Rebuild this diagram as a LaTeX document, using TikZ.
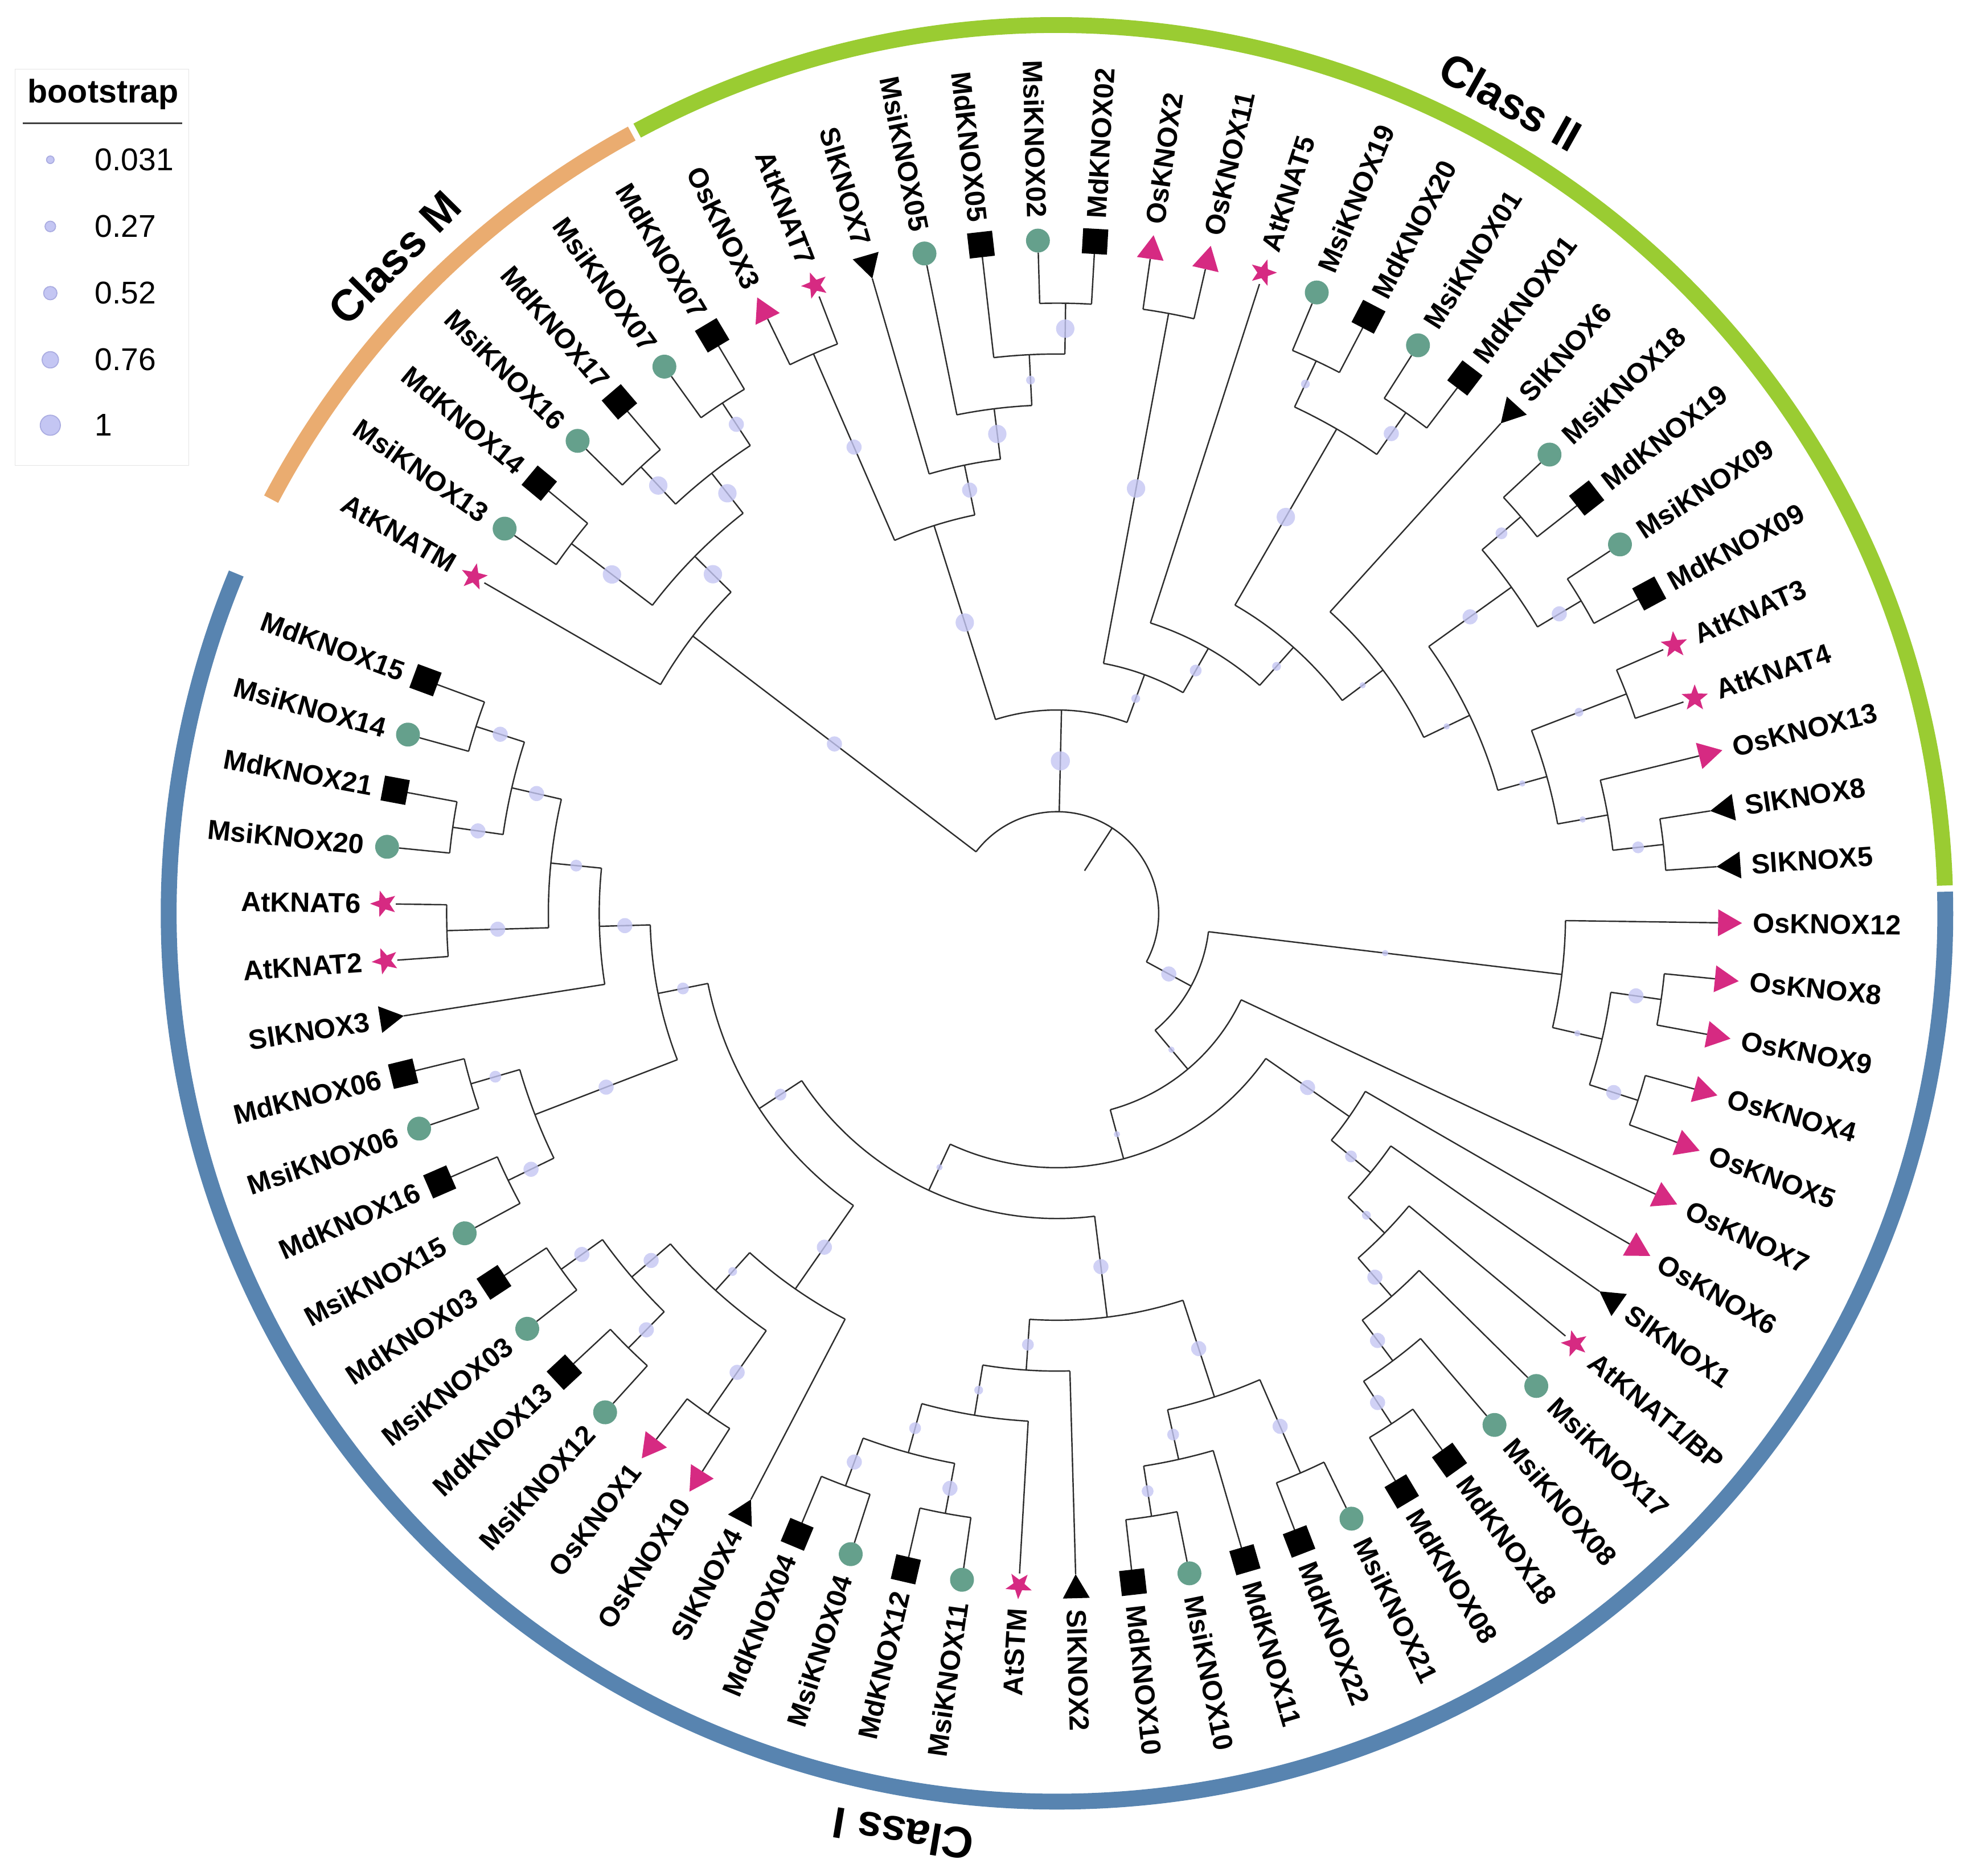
\documentclass[tikz,border=0pt]{standalone}
\usepackage{fontspec}
\setmainfont{Liberation Sans}
\definecolor{tealC}{RGB}{101,160,140}
\definecolor{magC}{RGB}{214,42,130}
\definecolor{ringO}{RGB}{234,172,112}
\definecolor{ringG}{RGB}{154,204,50}
\definecolor{ringB}{RGB}{88,132,176}
\definecolor{lavC}{RGB}{196,198,243}
\definecolor{lavD}{RGB}{170,172,225}
\definecolor{brC}{RGB}{45,45,45}
\tikzset{
 br/.style={draw=brC, line width=0.55pt},
 bsf/.style={fill=lavC, fill opacity=0.8},
 lab/.style={font=\fontsize{11}{13}\selectfont\bfseries, inner sep=0pt, text=black},
 cls/.style={font=\fontsize{17.5}{21}\selectfont\bfseries, inner sep=0pt},
 ringseg/.style={line width=6.3pt, line cap=butt},
 lgtxt/.style={font=\fontsize{12.5}{15}\selectfont, anchor=west, inner sep=0pt}
}
\newcommand\kxm{\fill[tealC] (0,0) circle[radius=9.5];}
\newcommand\kxd{\fill[black] (-10,-10) rectangle (10,10);}
\newcommand\kxa{\fill[magC] (0:11) -- (36:4.6) -- (72:11) -- (108:4.6) -- (144:11) -- (180:4.6) -- (216:11) -- (252:4.6) -- (288:11) -- (324:4.6) -- cycle;}
\newcommand\kxo{\fill[magC] (-9.5,-10.7) -- (9.5,0) -- (-9.5,10.7) -- cycle;}
\newcommand\kxs{\fill[black] (9.5,-10.7) -- (-9.5,0) -- (9.5,10.7) -- cycle;}
% internal nodes: p / level / parent level / bootstrap radius / first child p / last child p
\def\nodelist{%
1.5/9/2/6/0/3,%
3/10/9/7.3/1.5/4.5,%
1.5/12/10/7.3/1/2,%
4.5/11/10/7.3/3.5/5.5,%
3.5/12/11/7.3/3/4,%
5.5/12/11/6/5/6,%
12.595703/4/2/7.6/8.71875/16.472656,%
8.71875/8/4/7.3/7.5/9.9375,%
7.5/12/8/6/7/8,%
9.9375/9/8/6/9/10.875,%
10.875/10/9/7.3/10/11.75,%
11.75/11/10/3.5/11/12.5,%
12.5/12/11/7.3/12/13,%
16.472656/5/4/3.5/14.5/18.445313,%
14.5/12/5/7.3/14/15,%
18.445313/6/5/4.7/16/20.890625,%
20.890625/7/6/3.5/18.5/23.28125,%
18.5/11/7/7.3/17.5/19.5,%
17.5/12/11/3.5/17/18,%
19.5/12/11/6/19/20,%
23.28125/8/7/2.5/21/25.5625,%
25.5625/9/8/2.5/23.5/27.625,%
23.5/11/9/6/22.5/24.5,%
22.5/12/11/4.7/22/23,%
24.5/12/11/6/24/25,%
27.625/10/9/2.5/26.5/28.75,%
26.5/12/10/3.5/26/27,%
28.75/11/10/2.5/28/29.5,%
29.5/12/11/4.7/29/30,%
36.677734/3/2/6/32.25/41.105469,%
32.25/10/3/2.5/31/33.5,%
33.5/11/10/2.5/32.5/34.5,%
32.5/12/11/6/32/33,%
34.5/12/11/6/34/35,%
41.105469/4/3/2.5/36/46.210938,%
46.210938/5/4/2.5/37.984375/54.4375,%
37.984375/7/5/6/37/38.96875,%
38.96875/8/7/4.7/38/39.9375,%
39.9375/9/8/3.5/39/40.875,%
40.875/10/9/6/40/41.75,%
41.75/11/10/6/41/42.5,%
42.5/12/11/6/42/43,%
54.4375/6/5/2.5/47.875/61,%
47.875/8/6/6/45.625/50.125,%
45.625/10/8/6/44.5/46.75,%
44.5/12/10/6/44/45,%
46.75/11/10/4.7/46/47.5,%
47.5/12/11/4.7/47/48,%
50.125/9/8/4.7/49/51.25,%
51.25/10/9/3.5/50/52.5,%
52.5/11/10/4.7/51.5/53.5,%
51.5/12/11/6/51/52,%
53.5/12/11/6/53/54,%
61/7/6/4.7/56.5/65.5,%
56.5/9/7/6/55/58,%
58/10/9/3.5/56.5/59.5,%
56.5/12/10/6/56/57,%
59.5/11/10/6/58.5/60.5,%
58.5/12/11/6/58/59,%
60.5/12/11/6/60/61,%
65.5/8/7/4.7/63.5/67.5,%
63.5/11/8/6/62.5/64.5,%
62.5/12/11/6/62/63,%
64.5/12/11/4.7/64/65,%
67.5/9/8/6/66/69,%
69/10/9/4.7/67.5/70.5,%
67.5/12/10/6/67/68,%
70.5/11/10/6/69.5/71.5,%
69.5/12/11/6/69/70,%
71.5/12/11/6/71/72}
% leaves: index / name / species / parent level
\def\leaflist{%
0/AtKNATM/a/9,1/MsiKNOX13/m/12,2/MdKNOX14/d/12,3/MsiKNOX16/m/12,4/MdKNOX17/d/12,%
5/MsiKNOX07/m/12,6/MdKNOX07/d/12,7/OsKNOX3/o/12,8/AtKNAT7/a/12,9/SlKNOX7/s/9,%
10/MsiKNOX05/m/10,11/MdKNOX05/d/11,12/MsiKNOX02/m/12,13/MdKNOX02/d/12,14/OsKNOX2/o/12,%
15/OsKNOX11/o/12,16/AtKNAT5/a/6,17/MsiKNOX19/m/12,18/MdKNOX20/d/12,19/MsiKNOX01/m/12,%
20/MdKNOX01/d/12,21/SlKNOX6/s/8,22/MsiKNOX18/m/12,23/MdKNOX19/d/12,24/MsiKNOX09/m/12,%
25/MdKNOX09/d/12,26/AtKNAT3/a/12,27/AtKNAT4/a/12,28/OsKNOX13/o/11,29/SlKNOX8/s/12,%
30/SlKNOX5/s/12,31/OsKNOX12/o/10,32/OsKNOX8/o/12,33/OsKNOX9/o/12,34/OsKNOX4/o/12,%
35/OsKNOX5/o/12,36/OsKNOX7/o/4,37/OsKNOX6/o/7,38/SlKNOX1/s/8,39/{AtKNAT1/BP}/a/9,%
40/MsiKNOX17/m/10,41/MsiKNOX08/m/11,42/MdKNOX18/d/12,43/MdKNOX08/d/12,44/MsiKNOX21/m/12,%
45/MdKNOX22/d/12,46/MdKNOX11/d/11,47/MsiKNOX10/m/12,48/MdKNOX10/d/12,49/SlKNOX2/s/9,%
50/AtSTM/a/10,51/MsiKNOX11/m/12,52/MdKNOX12/d/12,53/MsiKNOX04/m/12,54/MdKNOX04/d/12,%
55/SlKNOX4/s/9,56/OsKNOX10/o/12,57/OsKNOX1/o/12,58/MsiKNOX12/m/12,59/MdKNOX13/d/12,%
60/MsiKNOX03/m/12,61/MdKNOX03/d/12,62/MsiKNOX15/m/12,63/MdKNOX16/d/12,64/MsiKNOX06/m/12,%
65/MdKNOX06/d/12,66/SlKNOX3/s/9,67/AtKNAT2/a/12,68/AtKNAT6/a/12,69/MsiKNOX20/m/12,%
70/MdKNOX21/d/12,71/MsiKNOX14/m/12,72/MdKNOX15/d/12}
\begin{document}
\begin{tikzpicture}[x=0.5pt,y=0.5pt]
\useasboundingbox (-840,-765) rectangle (728,726);
% class ring
\draw[ringseg, ringO] (152.2:706) arc[start angle=152.2, end angle=118.6, radius=706];
\draw[ringseg, ringG] (118.2:706) arc[start angle=118.2, end angle=1.8, radius=706];
\draw[ringseg, ringB] (1.4:706) arc[start angle=1.4, end angle=-202.5, radius=706];
% root
\coordinate (root) at (57.13:80.84);
\draw[br] (57.13:40.42) -- (root);
\draw[br] (142.703:80.84) arc[start angle=142.703, end angle=-28.432, radius=80.84];
% internal nodes
\foreach \q/\lv/\lp/\bsz/\qa/\qb in \nodelist {
  \pgfmathsetmacro\angA{150-4.8649*\qa}
  \pgfmathsetmacro\angB{150-4.8649*\qb}
  \pgfmathsetmacro\angP{150-4.8649*\q}
  \pgfmathsetmacro\rr{\lv*40.42}
  \pgfmathsetmacro\rpar{\lp*40.42}
  \draw[br] (\angA:\rr) arc[start angle=\angA, end angle=\angB, radius=\rr];
  \draw[br] (\angP:\rpar) -- (\angP:\rr);
}
% leaves
\foreach \i/\nm/\spc/\lp in \leaflist {
  \pgfmathsetmacro\thL{150-4.8649*\i}
  \pgfmathsetmacro\rpar{\lp*40.42}
  \draw[br] (\thL:\rpar) -- (\thL:525.5);
  \begin{scope}[shift={(\thL:535)}, rotate=\thL]
    \csname kx\spc\endcsname
  \end{scope}
  \pgfmathtruncatemacro\flip{(\thL>90 || \thL<-90) ? 1 : 0}
  \ifnum\flip=1
    \pgfmathsetmacro\rot{\thL+180}
    \node[lab, anchor=east, rotate=\rot] (L\i) at (\thL:553) {\nm};
  \else
    \node[lab, anchor=west, rotate=\thL] (L\i) at (\thL:553) {\nm};
  \fi
}
% bootstrap points
\foreach \q/\lv/\lp/\bsz/\qa/\qb in \nodelist {
  \pgfmathsetmacro\angP{150-4.8649*\q}
  \pgfmathsetmacro\rmid{(\lv+\lp)*20.21}
  \fill[bsf] (\angP:\rmid) circle[radius=\bsz];
}
% class labels
\node[cls, rotate=45.3] (cM) at (135.3:741) {Class M};
\node[cls, rotate=-29.2] (cII) at (60.8:739) {Class II};
\node[cls, rotate=170.5] (cI) at (-99.5:742) {Class I};
% legend
\draw[draw=black!10, fill=white] (-828,356) rectangle (-690,671);
\node[font=\fontsize{13}{15}\selectfont\bfseries, inner sep=0pt] (lgT) at (-758,651) {bootstrap};
\draw[black!75, line width=0.5pt] (-822,628) -- (-695,628);
\foreach \yy/\rr/\tx [count=\k] in {599/3/0.031, 546/4.2/0.27, 493/5.3/0.52, 440/6.5/0.76, 388/8/1} {
  \fill[lavC, draw=lavD, line width=0.4pt] (-800,\yy) circle[radius=\rr];
  \node[lgtxt] (lg\k) at (-765,\yy) {\tx};
}
\end{tikzpicture}
\end{document}
